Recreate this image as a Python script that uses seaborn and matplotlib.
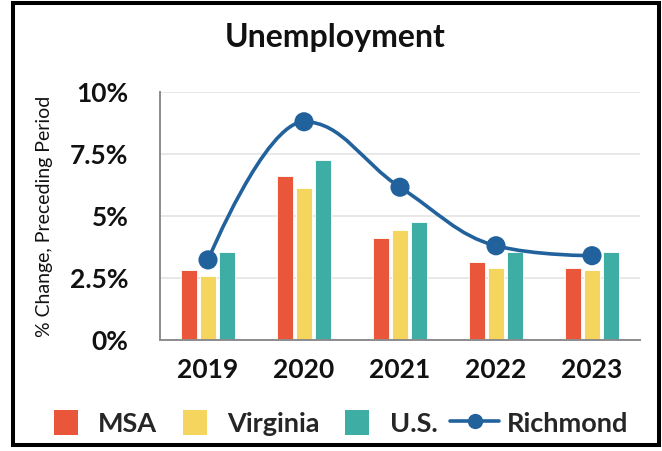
import matplotlib
matplotlib.use("Agg")
import matplotlib.pyplot as plt
import seaborn as sns
import pandas as pd
import numpy as np
from matplotlib.path import Path
from matplotlib.patches import PathPatch, Rectangle, Patch
from matplotlib.lines import Line2D
from matplotlib.legend_handler import HandlerPatch

years = ["2019", "2020", "2021", "2022", "2023"]
msa = [2.82, 6.61, 4.11, 3.15, 2.90]
virginia = [2.58, 6.13, 4.44, 2.90, 2.82]
us = [3.55, 7.26, 4.76, 3.55, 3.55]
richmond = [3.23, 8.80, 6.16, 3.80, 3.40]
series_names = ["MSA", "Virginia", "U.S."]
y_ticks = [0, 2.5, 5, 7.5, 10]
y_tick_labels = ["0%", "2.5%", "5%", "7.5%", "10%"]

colors = {"MSA": "#EA563A", "Virginia": "#F5D55E", "U.S.": "#3EAEA4"}
line_color = "#22629C"

sns.set_theme(style="white")
plt.rcParams["font.family"] = ["Lato", "DejaVu Sans"]

df = pd.DataFrame({
    "Year": years * 3,
    "Series": sum([[n] * len(years) for n in series_names], []),
    "Value": msa + virginia + us,
})

fig = plt.figure(figsize=(6.62, 4.51), dpi=100)
ax = fig.add_axes([160 / 662, 1 - 340 / 451, 480 / 662, 248 / 451])

sns.barplot(data=df, x="Year", y="Value", hue="Series", palette=colors,
            width=0.6, gap=0.17, ax=ax, legend=False, saturation=1,
            edgecolor="white", linewidth=0.6, zorder=2)

# Smooth spline (Highcharts-style) for Richmond
xs = np.arange(len(years), dtype=float)
ys = np.array(richmond, dtype=float)
n = len(xs)
sm = 1.5
den = sm + 1
lc = [None] * n
rc = [None] * n
for i in range(1, n - 1):
    lx = (sm * xs[i] + xs[i - 1]) / den
    ly = (sm * ys[i] + ys[i - 1]) / den
    rx = (sm * xs[i] + xs[i + 1]) / den
    ry = (sm * ys[i] + ys[i + 1]) / den
    corr = ((ry - ly) * (rx - xs[i])) / (rx - lx) + ys[i] - ry
    ly += corr
    ry += corr
    if ly > ys[i - 1] and ly > ys[i]:
        ly = max(ys[i - 1], ys[i]); ry = 2 * ys[i] - ly
    elif ly < ys[i - 1] and ly < ys[i]:
        ly = min(ys[i - 1], ys[i]); ry = 2 * ys[i] - ly
    if ry > ys[i + 1] and ry > ys[i]:
        ry = max(ys[i + 1], ys[i]); ly = 2 * ys[i] - ry
    elif ry < ys[i + 1] and ry < ys[i]:
        ry = min(ys[i + 1], ys[i]); ly = 2 * ys[i] - ry
    lc[i] = (lx, ly)
    rc[i] = (rx, ry)
verts = [(xs[0], ys[0])]
codes = [Path.MOVETO]
for i in range(1, n):
    c1 = rc[i - 1] if rc[i - 1] is not None else (xs[i - 1], ys[i - 1])
    c2 = lc[i] if lc[i] is not None else (xs[i], ys[i])
    verts += [c1, c2, (xs[i], ys[i])]
    codes += [Path.CURVE4] * 3
ax.add_patch(PathPatch(Path(verts, codes), facecolor="none", edgecolor=line_color,
                       lw=2.6, zorder=3, capstyle="round"))
sns.scatterplot(x=xs, y=ys, color=line_color, s=190, edgecolor="none", ax=ax, zorder=4)

ax.set_ylim(0, 10)
ax.set_xlim(-0.5, 4.5)
ax.set_yticks(y_ticks)
ax.set_yticklabels(y_tick_labels)
ax.set_xticks(range(len(years)))
ax.set_xticklabels(years)
ax.grid(axis="y", color="#e6e6e6", lw=1.3, zorder=0)
ax.set_axisbelow(True)
for s in ["top", "right"]:
    ax.spines[s].set_visible(False)
for s in ["left", "bottom"]:
    ax.spines[s].set_color("#8c8c8c")
    ax.spines[s].set_linewidth(1.4)
ax.tick_params(axis="both", colors="#8c8c8c", width=1.4, direction="out",
               labelcolor="#111111", labelsize=19)
ax.tick_params(axis="y", length=8.6, pad=14)
ax.tick_params(axis="x", length=8, pad=5)
for lab in ax.get_xticklabels() + ax.get_yticklabels():
    lab.set_fontweight("bold")
ax.set_xlabel("")
ax.set_ylabel("% Change, Preceding Period", fontsize=14, color="#111111")
ax.yaxis.set_label_coords(-0.222, 0.5)

fig.text(335 / 662, 1 - 38 / 451, "Unemployment", ha="center", va="center",
         fontsize=23, fontweight="bold", color="#111111")


def square_patch(legend, orig_handle, xdescent, ydescent, width, height, fontsize):
    side = height * 1.0
    return Rectangle((-xdescent + (width - side) / 2, -ydescent + (height - side) / 2),
                     side, side)


handles = [Patch(facecolor=colors[nm], edgecolor="none", label=nm) for nm in series_names]
handles.append(Line2D([0], [0], color=line_color, lw=2.6, marker="o", markersize=10,
                      label="Richmond"))
leg = fig.legend(handles=handles, loc="center", bbox_to_anchor=(335 / 662, 1 - 423 / 451),
                 ncol=4, frameon=False, prop={"weight": "bold", "size": 19.5},
                 handlelength=1.8, handleheight=1.0, handletextpad=0.3,
                 columnspacing=0.48,
                 handler_map={Patch: HandlerPatch(patch_func=square_patch)})

fig.add_artist(Rectangle((13 / 662, 6 / 451), 645.5 / 662, 442 / 451,
                         transform=fig.transFigure, fill=False, edgecolor="black",
                         lw=2.9))

fig.savefig("out.png", dpi=100)
